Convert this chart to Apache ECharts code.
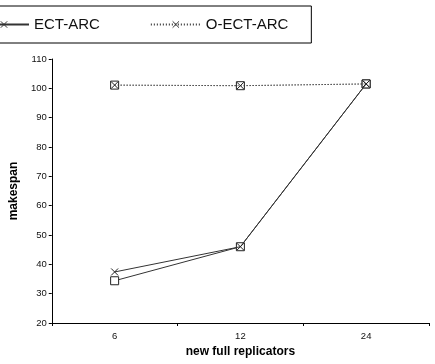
<!DOCTYPE html>
<html><head><meta charset="utf-8">
<script src="https://cdn.jsdelivr.net/npm/echarts@6/dist/echarts.min.js"></script>
<style>html,body{margin:0;padding:0;background:#fff}#c{width:435px;height:364px}</style>
</head><body><div id="c"></div>
<script>
const categories = ['6', '12', '24'];
const ectArcCross = [37.4, 46.0, 101.5];
const ectArcSquare = [34.4, 46.0, 101.5];
const oEctArcCross = [101.1, 100.9, 101.5];
const oEctArcSquare = [101.1, 100.9, 101.5];
const yTicks = { min: 20, max: 110, interval: 10 };

const crossPath = 'path://M0,0L10,10M10,0L0,10';
const font = 'Liberation Sans, Arial, sans-serif';
function mk(name, data, symbol, type, size) {
  return {
    name: name, type: 'line', data: data, symbol: symbol, symbolSize: size,
    showSymbol: true,
    lineStyle: { color: '#333', width: 1, type: type },
    itemStyle: { color: symbol === 'rect' ? '#fff' : 'none', borderColor: '#222', borderWidth: 1 },
    emphasis: { disabled: true }, animation: false, z: symbol === 'rect' ? 2 : 3
  };
}
const chart = echarts.init(document.getElementById('c'));
chart.setOption({
  animation: false,
  legend: {
    data: ['ECT-ARC', 'O-ECT-ARC'],
    left: -34, top: 6,
    padding: [11, 23, 11, 12],
    itemWidth: 50, itemHeight: 8, itemGap: 50,
    itemStyle: { borderWidth: 1, borderColor: '#333' },
    borderColor: '#000', borderWidth: 1,
    textStyle: { fontFamily: font, fontSize: 15, color: '#111' }
  },
  grid: { left: 45, right: 6, top: 59, bottom: 41 },
  xAxis: {
    type: 'category', data: categories, boundaryGap: true,
    name: 'new full replicators', nameLocation: 'middle', nameGap: 23,
    nameTextStyle: { fontFamily: font, fontSize: 12, fontWeight: 'bold', color: '#000' },
    axisLine: { lineStyle: { color: '#000', width: 1 } },
    axisTick: { show: true, length: 3, lineStyle: { color: '#000' } },
    axisLabel: { fontFamily: font, fontSize: 9.5, color: '#111', margin: 8 }
  },
  yAxis: {
    type: 'value', min: yTicks.min, max: yTicks.max, interval: yTicks.interval,
    name: 'makespan', nameLocation: 'middle', nameGap: 28, nameRotate: 90,
    nameTextStyle: { fontFamily: font, fontSize: 12, fontWeight: 'bold', color: '#000' },
    axisLine: { show: true, lineStyle: { color: '#000', width: 1 } },
    axisTick: { show: true, length: 3, lineStyle: { color: '#000' } },
    splitLine: { show: false },
    axisLabel: { fontFamily: font, fontSize: 9.5, color: '#111', margin: 5 }
  },
  series: [
    mk('ECT-ARC', ectArcCross, crossPath, 'solid', 7),
    mk('ECT-ARC-sq', ectArcSquare, 'rect', 'solid', 8),
    mk('O-ECT-ARC-sq', oEctArcSquare, 'rect', [1, 2], 8),
    mk('O-ECT-ARC', oEctArcCross, crossPath, [1, 2], 7)
  ]
});
</script></body></html>
